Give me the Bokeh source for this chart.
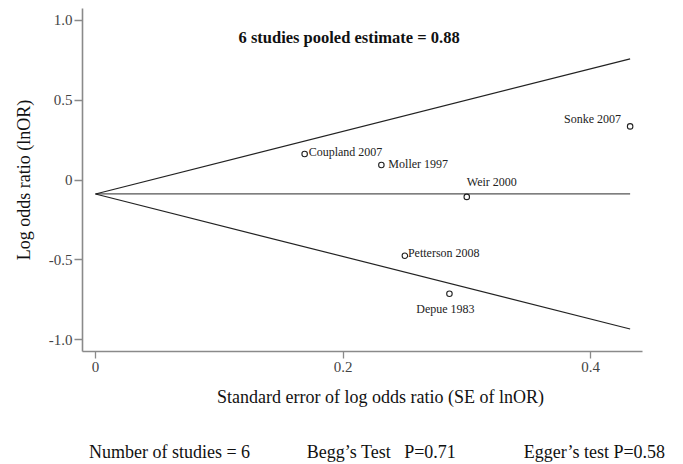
import numpy as np
from bokeh.plotting import figure
from bokeh.models import ColumnDataSource, Label, FixedTicker, Range1d, LinearAxis
from bokeh.core.properties import value
from bokeh.embed import file_html
from bokeh.resources import INLINE

# Study-level estimates: standard error and log odds ratio
studies = ["Coupland 2007", "Moller 1997", "Weir 2000", "Sonke 2007", "Petterson 2008", "Depue 1983"]
se_lnor = [0.169, 0.231, 0.300, 0.432, 0.250, 0.286]
lnor = [0.163, 0.094, -0.106, 0.336, -0.475, -0.713]

# Pooled log odds ratio (fixed effect) and the SE reached by the funnel limits
pooled_lnor = -0.0875
se_max = 0.432

x_ticks = [0, 0.2, 0.4]
x_tick_labels = {0: "0", 0.2: "0.2", 0.4: "0.4"}
y_ticks = [-1.0, -0.5, 0, 0.5, 1.0]
y_tick_labels = {-1.0: "-1.0", -0.5: "-0.5", 0: "0", 0.5: "0.5", 1.0: "1.0"}

x_title = "Standard error of log odds ratio (SE of lnOR)"
y_title = "Log odds ratio (lnOR)"
title_text = "6 studies pooled estimate = 0.88"
footer = ["Number of studies = 6", "Begg\u2019s Test \u00a0\u00a0P=0.71", "Egger\u2019s test P=0.58"]
# horizontal centres of the x title and footer notes, on the SE scale
x_title_at = 0.2303
footer_x = [0.0598, 0.2311, 0.4032]

SERIF = "Liberation Serif"

# Label placement per study (offsets in pixels, alignment)
label_style = {
    "Coupland 2007": (4, -2, "left"),
    "Moller 1997": (7, -1, "left"),
    "Weir 2000": (0, -15, "left"),
    "Sonke 2007": (-9, -7, "right"),
    "Petterson 2008": (3, -3, "left"),
    "Depue 1983": (-4, 15, "center"),
}

p = figure(width=683, height=464, output_backend="svg", toolbar_location=None,
           x_range=Range1d(-0.0105, 0.4420), y_range=Range1d(-1.075, 1.075),
           min_border_left=82, min_border_right=41, min_border_top=8, min_border_bottom=112)
p.outline_line_color = None
p.grid.visible = False
p.background_fill_color = "white"
p.border_fill_color = "white"

# Funnel: pooled line and 95% pseudo-confidence limits
se_line = np.array([0.0, se_max])
p.line(se_line, [pooled_lnor, pooled_lnor], line_color="#555555", line_width=1.2)
p.line(se_line, pooled_lnor + 1.96 * se_line, line_color="#222222", line_width=1.2)
p.line(se_line, pooled_lnor - 1.96 * se_line, line_color="#222222", line_width=1.2)

src = ColumnDataSource(dict(
    x=se_lnor, y=lnor, name=studies,
    dx=[label_style[s][0] for s in studies],
    dy=[label_style[s][1] for s in studies],
    align=[label_style[s][2] for s in studies],
))
p.scatter("x", "y", source=src, marker="circle", size=5.5, fill_color="white",
          line_color="#222222", line_width=1.1)
p.text("x", "y", text="name", source=src, x_offset="dx", y_offset="dy",
       text_align="align", text_baseline="middle", text_font=value(SERIF),
       text_font_size="12px", text_color="#222222")

# Axes
for ax in (p.xaxis[0], p.yaxis[0]):
    ax.axis_line_color = "#8a8a8a"
    ax.axis_line_width = 1.6
    ax.major_tick_line_color = "#8a8a8a"
    ax.major_tick_line_width = 1.3
    ax.minor_tick_line_color = None
    ax.major_tick_in = 0
    ax.major_label_text_font = SERIF
    ax.major_label_text_font_size = "15px"
    ax.major_label_text_color = "#444444"
    ax.axis_label_text_font = SERIF
    ax.axis_label_text_font_size = "18px"
    ax.axis_label_text_font_style = "normal"
    ax.axis_label_text_color = "#111111"

p.xaxis.ticker = FixedTicker(ticks=x_ticks)
p.xaxis.major_label_overrides = x_tick_labels
p.xaxis.major_tick_out = 7
p.xaxis.major_label_standoff = 3

p.yaxis.ticker = FixedTicker(ticks=y_ticks)
p.yaxis.major_label_overrides = y_tick_labels
p.yaxis.major_tick_out = 8
p.yaxis.major_label_standoff = 2
p.yaxis.axis_label = y_title
p.yaxis.axis_label_standoff = 12


def text_row(ticks, labels, standoff):
    """A bare axis below the plot whose tick labels act as free text."""
    ax = LinearAxis(ticker=FixedTicker(ticks=ticks),
                    major_label_overrides={x: t for x, t in zip(ticks, labels)})
    ax.axis_line_color = None
    ax.major_tick_line_color = None
    ax.minor_tick_line_color = None
    ax.major_tick_out = 0
    ax.major_tick_in = 0
    ax.major_label_standoff = standoff
    ax.major_label_text_font = SERIF
    ax.major_label_text_font_size = "18px"
    ax.major_label_text_color = "#111111"
    return ax


# x-axis title, then the test results underneath
p.add_layout(text_row([x_title_at], [x_title], 12), "below")
p.add_layout(text_row(footer_x, footer, 32), "below")

p.add_layout(Label(x=156, y=314, x_units="screen", y_units="screen", text=title_text,
                   text_font=SERIF, text_font_size="16.5px", text_font_style="bold",
                   text_baseline="middle", text_color="#111111"))

open("out.html", "w").write(file_html(p, INLINE))
